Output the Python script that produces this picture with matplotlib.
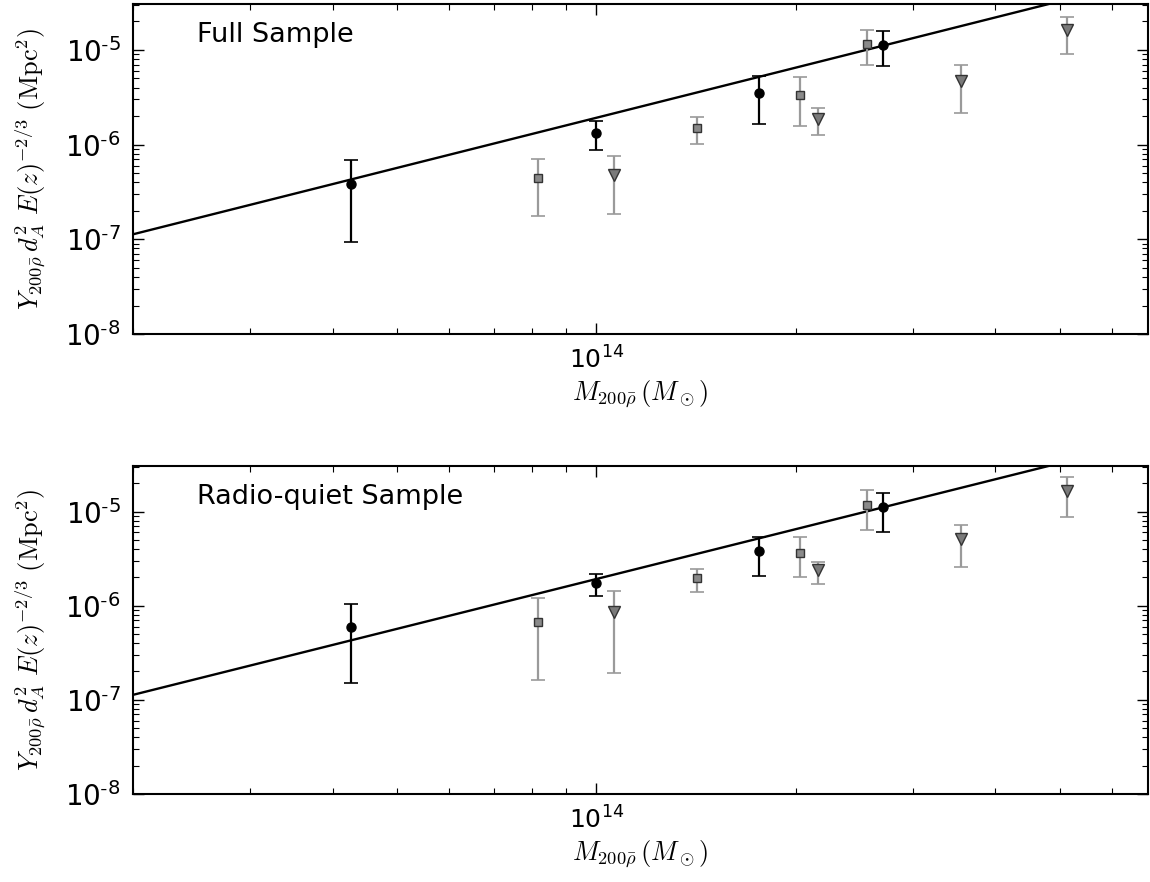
import numpy as np
import matplotlib.pyplot as plt
from matplotlib.ticker import LogLocator, NullFormatter, FuncFormatter

plt.rcParams['mathtext.fontset'] = 'cm'
plt.rcParams['axes.unicode_minus'] = False

# fitted power law  Y = norm * (M / 1e14)^slope
fit_norm = 1.92e-6
fit_slope = 1.76

# ---- Full sample ----
full_circ_m = [4.26e13, 1.00e14, 1.76e14, 2.71e14]
full_circ_y = [3.88e-7, 1.34e-6, 3.53e-6, 1.13e-5]
full_circ_lo = [9.3e-8, 8.85e-7, 1.66e-6, 6.8e-6]
full_circ_hi = [6.8e-7, 1.79e-6, 5.3e-6, 1.58e-5]

full_sq_m = [8.17e13, 1.42e14, 2.03e14, 2.56e14]
full_sq_y = [4.39e-7, 1.51e-6, 3.36e-6, 1.16e-5]
full_sq_lo = [1.75e-7, 1.02e-6, 1.58e-6, 6.95e-6]
full_sq_hi = [7.1e-7, 1.97e-6, 5.2e-6, 1.63e-5]

full_tri_m = [1.065e14, 2.16e14, 3.55e14, 5.14e14]
full_tri_y = [4.83e-7, 1.88e-6, 4.72e-6, 1.62e-5]
full_tri_lo = [1.83e-7, 1.27e-6, 2.17e-6, 9.08e-6]
full_tri_hi = [7.66e-7, 2.45e-6, 6.95e-6, 2.22e-5]

# ---- Radio-quiet sample ----
rq_circ_m = [4.26e13, 1.00e14, 1.76e14, 2.71e14]
rq_circ_y = [6.01e-7, 1.75e-6, 3.79e-6, 1.13e-5]
rq_circ_lo = [1.51e-7, 1.27e-6, 2.07e-6, 6.0e-6]
rq_circ_hi = [1.05e-6, 2.17e-6, 5.33e-6, 1.58e-5]

rq_sq_m = [8.17e13, 1.42e14, 2.03e14, 2.56e14]
rq_sq_y = [6.79e-7, 1.97e-6, 3.61e-6, 1.16e-5]
rq_sq_lo = [1.62e-7, 1.40e-6, 2.02e-6, 6.3e-6]
rq_sq_hi = [1.21e-6, 2.45e-6, 5.33e-6, 1.71e-5]

rq_tri_m = [1.065e14, 2.16e14, 3.55e14, 5.14e14]
rq_tri_y = [8.65e-7, 2.39e-6, 5.07e-6, 1.66e-5]
rq_tri_lo = [1.92e-7, 1.71e-6, 2.57e-6, 8.65e-6]
rq_tri_hi = [1.44e-6, 2.9e-6, 7.12e-6, 2.33e-5]

panels = [
    ('Full Sample',
     (full_circ_m, full_circ_y, full_circ_lo, full_circ_hi),
     (full_sq_m, full_sq_y, full_sq_lo, full_sq_hi),
     (full_tri_m, full_tri_y, full_tri_lo, full_tri_hi)),
    ('Radio-quiet Sample',
     (rq_circ_m, rq_circ_y, rq_circ_lo, rq_circ_hi),
     (rq_sq_m, rq_sq_y, rq_sq_lo, rq_sq_hi),
     (rq_tri_m, rq_tri_y, rq_tri_lo, rq_tri_hi)),
]

xlim = (2.0e13, 6.8e14)
ylim = (1e-8, 3.05e-5)

fig = plt.figure(figsize=(11.5, 8.82), dpi=100)
ax_top = fig.add_axes([0.1157, 0.6213, 0.8826, 0.3741])
ax_bot = fig.add_axes([0.1157, 0.0998, 0.8826, 0.3719])


def draw_series(ax, data, marker, ecol, fcol, mec, ms):
    m, y, lo, hi = [np.array(v) for v in data]
    ax.errorbar(m, y, yerr=[y - lo, hi - y], fmt=marker, color=ecol, ecolor=ecol,
                mfc=fcol, mec=mec, ms=ms, capsize=5, elinewidth=1.6, capthick=1.2,
                zorder=3)


def exp_label(v, pos):
    e = int(round(np.log10(v)))
    if e < 0:
        return r'$\mathdefault{10^{\text{-}%d}}$' % (-e)
    return r'$\mathdefault{10^{%d}}$' % e


exp_fmt = FuncFormatter(exp_label)

for ax, (label, circ, sq, tri) in zip([ax_top, ax_bot], panels):
    mm = np.logspace(np.log10(xlim[0]), np.log10(xlim[1]), 100)
    ax.plot(mm, fit_norm * (mm / 1e14) ** fit_slope, color='black', lw=1.7, zorder=2)

    draw_series(ax, sq, 's', '#9a9a9a', '#8a8a8a', '#333333', 6)
    draw_series(ax, tri, 'v', '#9a9a9a', '#7a7a7a', '#333333', 8.5)
    draw_series(ax, circ, 'o', 'black', 'black', 'black', 6.5)

    ax.set_xscale('log')
    ax.set_yscale('log')
    ax.set_xlim(*xlim)
    ax.set_ylim(*ylim)

    ax.yaxis.set_major_locator(LogLocator(base=10, numticks=10))
    ax.yaxis.set_major_formatter(exp_fmt)
    ax.yaxis.set_minor_locator(LogLocator(base=10, subs=np.arange(2, 10), numticks=20))
    ax.yaxis.set_minor_formatter(NullFormatter())
    ax.xaxis.set_major_formatter(exp_fmt)
    ax.xaxis.set_minor_locator(LogLocator(base=10, subs=np.arange(2, 10), numticks=20))
    ax.xaxis.set_minor_formatter(NullFormatter())

    ax.tick_params(which='both', direction='in', top=True, right=True)
    ax.tick_params(axis='x', which='major', pad=9, labelsize=18)
    ax.tick_params(axis='y', which='major', pad=9, labelsize=20)
    ax.tick_params(which='major', length=8, width=1)
    ax.tick_params(which='minor', length=4, width=0.8)
    for s in ax.spines.values():
        s.set_linewidth(1.5)

    ax.text(0.063, 0.905, label, transform=ax.transAxes, fontsize=19.5,
            va='center', ha='left')
    ax.set_xlabel(r'$M_{200\bar{\rho}}\,(M_\odot)$', fontsize=19, labelpad=3)
    ax.set_ylabel(r'$Y_{200\bar{\rho}}\,d_A^2\ E(z)^{-2/3}\ (\mathrm{Mpc}^2)$',
                  fontsize=19)
    ax.yaxis.set_label_coords(-0.085, 0.5)

fig.savefig('out.png', dpi=100)
